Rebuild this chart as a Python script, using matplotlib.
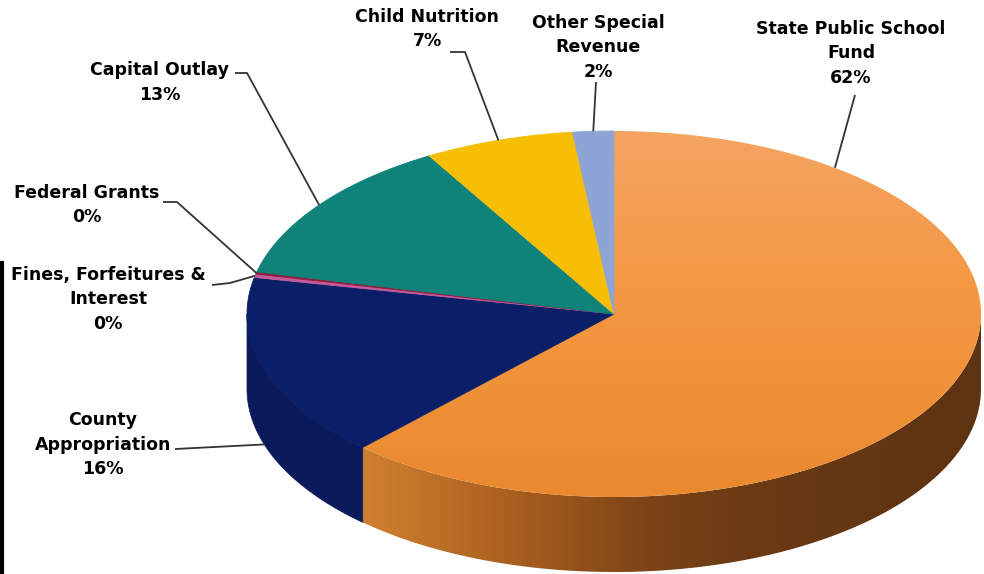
import numpy as np
import matplotlib
matplotlib.use("Agg")
import matplotlib.pyplot as plt
from matplotlib.patches import Polygon
from matplotlib.colors import LinearSegmentedColormap

# ---------------- data ----------------
categories = ["State Public School Fund", "County Appropriation",
              "Fines, Forfeitures & Interest", "Federal Grants",
              "Capital Outlay", "Child Nutrition", "Other Special Revenue"]
values = [62.0, 16.2, 0.3, 0.2, 12.9, 6.6, 1.8]
label_lines = [["State Public School", "Fund"],
               ["County", "Appropriation"],
               ["Fines, Forfeitures &", "Interest"],
               ["Federal Grants"],
               ["Capital Outlay"],
               ["Child Nutrition"],
               ["Other Special", "Revenue"]]

# ---------------- style / layout ----------------
top_colors = ["#F39A45", "#0B1E68", "#C45A9A", "#8B1E3F", "#0F827A", "#F7BE06", "#8DA4D4"]
side_colors = ["#A85E1E", "#0A1A5A", "#9A3F75", "#6A1530", "#0A625C", "#C29400", "#6F86B5"]

cx, cy, rx, ry, depth = 614.0, 314.0, 367.0, 183.0, 75.0

# label block: top line centre (x, y)
label_pos = [(851, 29), (103, 420), (108, 275), (87, 193), (160, 70), (427, 17), (598, 23)]
line_gap = 24.5
# leader line path starts (label side); endpoint computed on pie
leader_start = [[(855, 95)], [(175, 449)], [(212, 285), (230, 283)], [(163, 202), (177, 202)],
                [(235, 73), (247, 73)], [(450, 52), (465, 52)], [(596, 82)]]

W, H = 984, 574
fig = plt.figure(figsize=(W / 100, H / 100), dpi=100)
ax = fig.add_axes([0, 0, 1, 1])
ax.set_xlim(0, W)
ax.set_ylim(H, 0)
ax.axis("off")


def proj(theta, drop=0.0):
    t = np.radians(theta)
    return cx + rx * np.sin(t), cy - ry * np.cos(t) + drop


total = float(sum(values))
bounds = np.concatenate([[0.0], np.cumsum(values) / total * 360.0])

# ---------------- sides ----------------
side_cmap = LinearSegmentedColormap.from_list(
    "side", [(0.0, "#D0802E"), (0.25, "#A85E1E"), (0.45, "#7E4517"),
             (0.62, "#6A3A14"), (1.0, "#5E3311")])
top_cmap = LinearSegmentedColormap.from_list(
    "top", [(0.0, "#F5A462"), (0.45, "#F49842"), (1.0, "#EA892E")])

for i in range(len(values)):
    a, b = bounds[i], bounds[i + 1]
    lo, hi = max(a, 90.0), min(b, 270.0)
    if lo >= hi:
        continue
    ts = np.linspace(lo, hi, 200)
    tx, tyy = proj(ts)
    bx, byy = proj(ts[::-1], depth)
    pts = np.column_stack([np.concatenate([tx, bx]), np.concatenate([tyy, byy])])
    if i == 0:
        poly = Polygon(pts, closed=True, facecolor="none", edgecolor="none",
                       transform=ax.transData)
        ax.add_patch(poly)
        x0, x1 = tx.min(), tx.max()
        grad = np.linspace(0, 1, 256)[None, :]
        im = ax.imshow(grad, extent=(x0 - 2, x1 + 2, cy + ry + depth + 5, cy - 5),
                       cmap=side_cmap, aspect="auto", zorder=1, interpolation="bilinear")
        im.set_clip_path(poly)
    else:
        ax.add_patch(Polygon(pts, closed=True, facecolor=side_colors[i],
                             edgecolor=side_colors[i], lw=0.5, zorder=1))

# ---------------- top faces ----------------
for i in range(len(values)):
    a, b = bounds[i], bounds[i + 1]
    ts = np.linspace(a, b, max(int((b - a) * 3), 4))
    tx, tyy = proj(ts)
    pts = np.column_stack([np.concatenate([[cx], tx]), np.concatenate([[cy], tyy])])
    if i == 0:
        poly = Polygon(pts, closed=True, facecolor="none", edgecolor="none",
                       transform=ax.transData)
        ax.add_patch(poly)
        grad = np.linspace(0, 1, 256)[:, None]
        im = ax.imshow(grad, extent=(cx - rx - 2, cx + rx + 2, cy + ry + 2, cy - ry - 2),
                       origin="upper", cmap=top_cmap, aspect="auto", zorder=2,
                       interpolation="bilinear")
        im.set_clip_path(poly)
    else:
        ax.add_patch(Polygon(pts, closed=True, facecolor=top_colors[i],
                             edgecolor=top_colors[i], lw=0.6, zorder=2))

# ---------------- leader endpoints ----------------
mids = [(bounds[i] + bounds[i + 1]) / 2 for i in range(len(values))]
ends = []
for i, m in enumerate(mids):
    if i == 0:
        ends.append(proj(37.0))          # label placed at the top-right rim
    elif 90 < m < 270:
        ends.append(proj(m, depth))      # front: lower rim of the side
    else:
        ends.append(proj(m))

for i in range(len(values)):
    path = leader_start[i] + [ends[i]]
    xs = [p[0] for p in path]
    ys = [p[1] for p in path]
    ax.plot(xs, ys, color="#333333", lw=1.3, zorder=3, solid_capstyle="butt")

# ---------------- labels ----------------
for i in range(len(values)):
    lines = label_lines[i] + [f"{round(values[i])}%"]
    x0, y0 = label_pos[i]
    for k, s in enumerate(lines):
        ax.text(x0, y0 + k * line_gap, s, ha="center", va="center",
                fontsize=12.5, fontweight="bold", family="DejaVu Sans",
                color="black", zorder=4)

# stray frame line at the left edge of the original image
ax.plot([1.5, 1.5], [263, 574], color="black", lw=3, zorder=4)

ax.set_xlim(0, W)
ax.set_ylim(H, 0)
fig.savefig("out.png", dpi=100)
